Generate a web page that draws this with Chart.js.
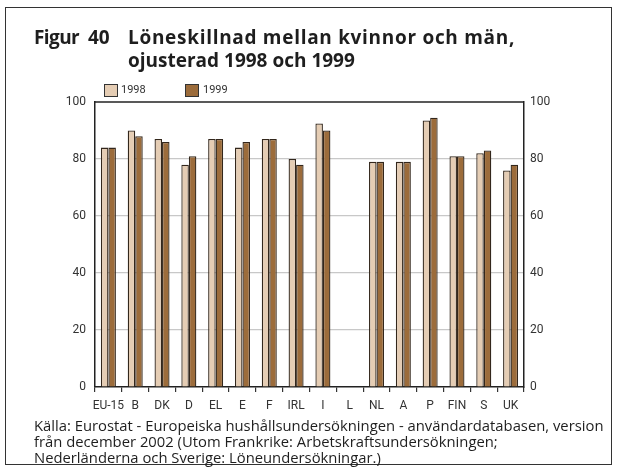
<!DOCTYPE html>
<html>
<head>
<meta charset="utf-8">
<script src="https://cdn.jsdelivr.net/npm/chart.js@4"></script>
<style>
  html, body { margin: 0; padding: 0; background: #fff; }
  #wrap { position: relative; width: 620px; height: 470px; overflow: hidden; }
  #frame { position: absolute; left: 5px; top: 7px; width: 607px; height: 458px; border: 1.5px solid #333; box-sizing: border-box; }
  canvas { position: absolute; left: 0; top: 0; }
  .title { position: absolute; display: inline-block; font-family: 'Open Sans', sans-serif; font-weight: bold; font-size: 19px; color: #1e1e1e; line-height: 23px; white-space: nowrap; }
  .leg { position: absolute; font-family: Roboto, sans-serif; font-size: 11px; color: #333; white-space: nowrap; }
  .box { position: absolute; width: 12px; height: 11px; border: 1px solid #333; }
  #foot { position: absolute; display: inline-block; left: 34px; top: 417px; font-family: 'Open Sans', sans-serif; font-size: 13px; line-height: 16px; color: #1e1e1e; white-space: nowrap; }
</style>
</head>
<body>
<div id="wrap">
  <div id="frame"></div>
  <canvas id="c" width="620" height="470"></canvas>
  <div class="title" id="fig" style="left:34px; top:26px; letter-spacing:-0.6px;">Figur</div>
  <div class="title" id="num" style="left:88px; top:26px;">40</div>
  <div class="title" id="head" style="left:128px; top:26px;"><span style="letter-spacing:0.7px;">Löneskillnad mellan kvinnor och män,</span><br>ojusterad 1998 och 1999</div>
  <div class="box" id="box0" style="left:104px; top:84px;"></div>
  <div class="leg" id="leg0" style="left:121px; top:83px;"></div>
  <div class="box" id="box1" style="left:185px; top:84px;"></div>
  <div class="leg" id="leg1" style="left:203px; top:83px;"></div>
  <div id="foot">Källa: Eurostat - Europeiska hushållsundersökningen - användardatabasen, version<br>från december 2002 (Utom Frankrike: Arbetskraftsundersökningen;<br>Nederländerna och Sverige: Löneundersökningar.)</div>
</div>
<script>
// Countries along the x axis
const countries = ['EU-15', 'B', 'DK', 'D', 'EL', 'E', 'F', 'IRL', 'I', 'L', 'NL', 'A', 'P', 'FIN', 'S', 'UK'];
// Women's wage as a percentage of men's (L: no data)
const values1998 = [84, 90, 87, 78, 87, 84, 87, 80, 92.5, null, 79, 79, 93.5, 81, 82, 76];
const values1999 = [84, 88, 86, 81, 87, 86, 87, 78, 90, null, 79, 79, 94.5, 81, 83, 78];
const seriesNames = ['1998', '1999'];
const yTicks = [0, 20, 40, 60, 80, 100];

const fill1998 = '#e5cdb4';
const fill1999 = '#9c6c3b';
const edge = '#33271c';

// HTML legend
document.getElementById('leg0').textContent = seriesNames[0];
document.getElementById('leg1').textContent = seriesNames[1];
document.getElementById('box0').style.background = fill1998;
document.getElementById('box1').style.background = fill1999;

// Size a text block so its longest line spans the given width
function fitWidth(id, target) {
  const el = document.getElementById(id);
  const w = el.getBoundingClientRect().width;
  const fs = parseFloat(getComputedStyle(el).fontSize);
  el.style.fontSize = (fs * target / w).toFixed(2) + 'px';
}
fitWidth('foot', 570);

const tickFont = { family: "Roboto, sans-serif", size: 12 };

// Line along the top of the plot area
const topLine = {
  id: 'topLine',
  afterDraw(chart) {
    const { ctx, chartArea } = chart;
    ctx.save();
    ctx.strokeStyle = '#222';
    ctx.lineWidth = 1.5;
    ctx.beginPath();
    ctx.moveTo(chartArea.left, chartArea.top);
    ctx.lineTo(chartArea.right, chartArea.top);
    ctx.stroke();
    ctx.restore();
  }
};

new Chart(document.getElementById('c'), {
  type: 'bar',
  data: {
    labels: countries,
    datasets: [
      { label: seriesNames[0], data: values1998, backgroundColor: fill1998, borderColor: edge, borderWidth: 1.3 },
      { label: seriesNames[1], data: values1999, backgroundColor: fill1999, borderColor: edge, borderWidth: 1.3 }
    ]
  },
  options: {
    responsive: false,
    animation: false,
    devicePixelRatio: 1,
    layout: { padding: { top: 102, left: 0, right: 0, bottom: 0 } },
    datasets: { bar: { categoryPercentage: 0.56, barPercentage: 1.0 } },
    plugins: { legend: { display: false }, tooltip: { enabled: false } },
    scales: {
      x: {
        grid: { offset: true, drawOnChartArea: false, drawTicks: true, tickLength: 5, color: '#333', lineWidth: 1.2 },
        border: { display: true, color: '#222', width: 1.5 },
        ticks: { color: '#333', font: tickFont, padding: 7, maxRotation: 0, autoSkip: false },
        afterFit(s) { s.height = 83; }
      },
      y: {
        position: 'left',
        min: 0, max: 100,
        afterBuildTicks(s) { s.ticks = yTicks.map(v => ({ value: v })); },
        grid: {
          drawTicks: false,
          color: c => (c.tick && (c.tick.value === 0 || c.tick.value === 100)) ? 'rgba(0,0,0,0)' : '#c8c8c8',
          lineWidth: 1.2
        },
        border: { display: true, color: '#222', width: 1.5 },
        ticks: { color: '#333', font: tickFont, padding: 9 },
        afterFit(s) { s.width = 95; }
      },
      y2: {
        position: 'right',
        min: 0, max: 100,
        afterBuildTicks(s) { s.ticks = yTicks.map(v => ({ value: v })); },
        grid: { display: false, drawTicks: false },
        border: { display: true, color: '#222', width: 1.5 },
        ticks: { color: '#333', font: tickFont, padding: 6 },
        afterFit(s) { s.width = 96; }
      }
    }
  },
  plugins: [topLine]
});
</script>
</body>
</html>
